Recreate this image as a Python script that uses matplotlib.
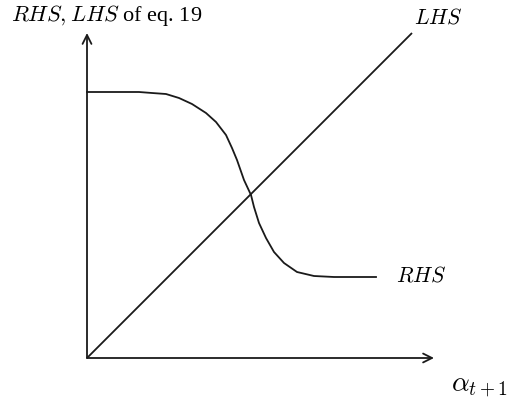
import matplotlib
matplotlib.use("Agg")
import matplotlib.pyplot as plt

plt.rcParams['font.family'] = ['Liberation Serif', 'DejaVu Serif']
plt.rcParams['mathtext.fontset'] = 'cm'

# RHS curve (arbitrary units, origin at axes corner)
rhs_x = [0, 52, 65, 79, 92, 105, 119, 129, 139, 145, 150, 157, 164, 167,
         172, 179, 187, 197, 210, 227, 247, 289]
rhs_y = [266, 266, 265, 264, 260, 254, 245, 236, 223, 210, 198, 178, 163, 151,
         135, 120, 106, 95, 86, 82, 81, 81]

# LHS is the 45 degree line
lhs_x = [0, 325]
lhs_y = [0, 325]

x_axis_end = 347
y_axis_end = 325

fig = plt.figure(figsize=(5.07, 4.05), dpi=100)
ax = fig.add_axes([0, 0, 1, 1])
ax.set_xlim(-87, 420)
ax.set_ylim(-47, 358)
ax.axis('off')

lw = 1.3
ax.plot(rhs_x, rhs_y, color='#1a1a1a', lw=lw, solid_joinstyle='round')
ax.plot(lhs_x, lhs_y, color='#1a1a1a', lw=lw, solid_capstyle='butt')

# axes with open arrow heads
arrow = dict(arrowstyle='->', color='#1a1a1a', lw=lw, mutation_scale=16,
             shrinkA=0, shrinkB=0)
ax.annotate('', xy=(x_axis_end, 0), xytext=(0, 0), arrowprops=arrow)
ax.annotate('', xy=(0, y_axis_end), xytext=(0, 0), arrowprops=arrow)

ax.text(-76, 343, r'$RHS, LHS$ of eq. 19', fontsize=16, ha='left', va='center')
ax.text(327, 340, r'$LHS$', fontsize=15.5, ha='left', va='center')
ax.text(309, 81, r'$RHS$', fontsize=15.5, ha='left', va='center')
ax.text(364, -29, r'$\alpha_{t+1}$', fontsize=20, ha='left', va='center')

fig.savefig('out.png', dpi=100)
